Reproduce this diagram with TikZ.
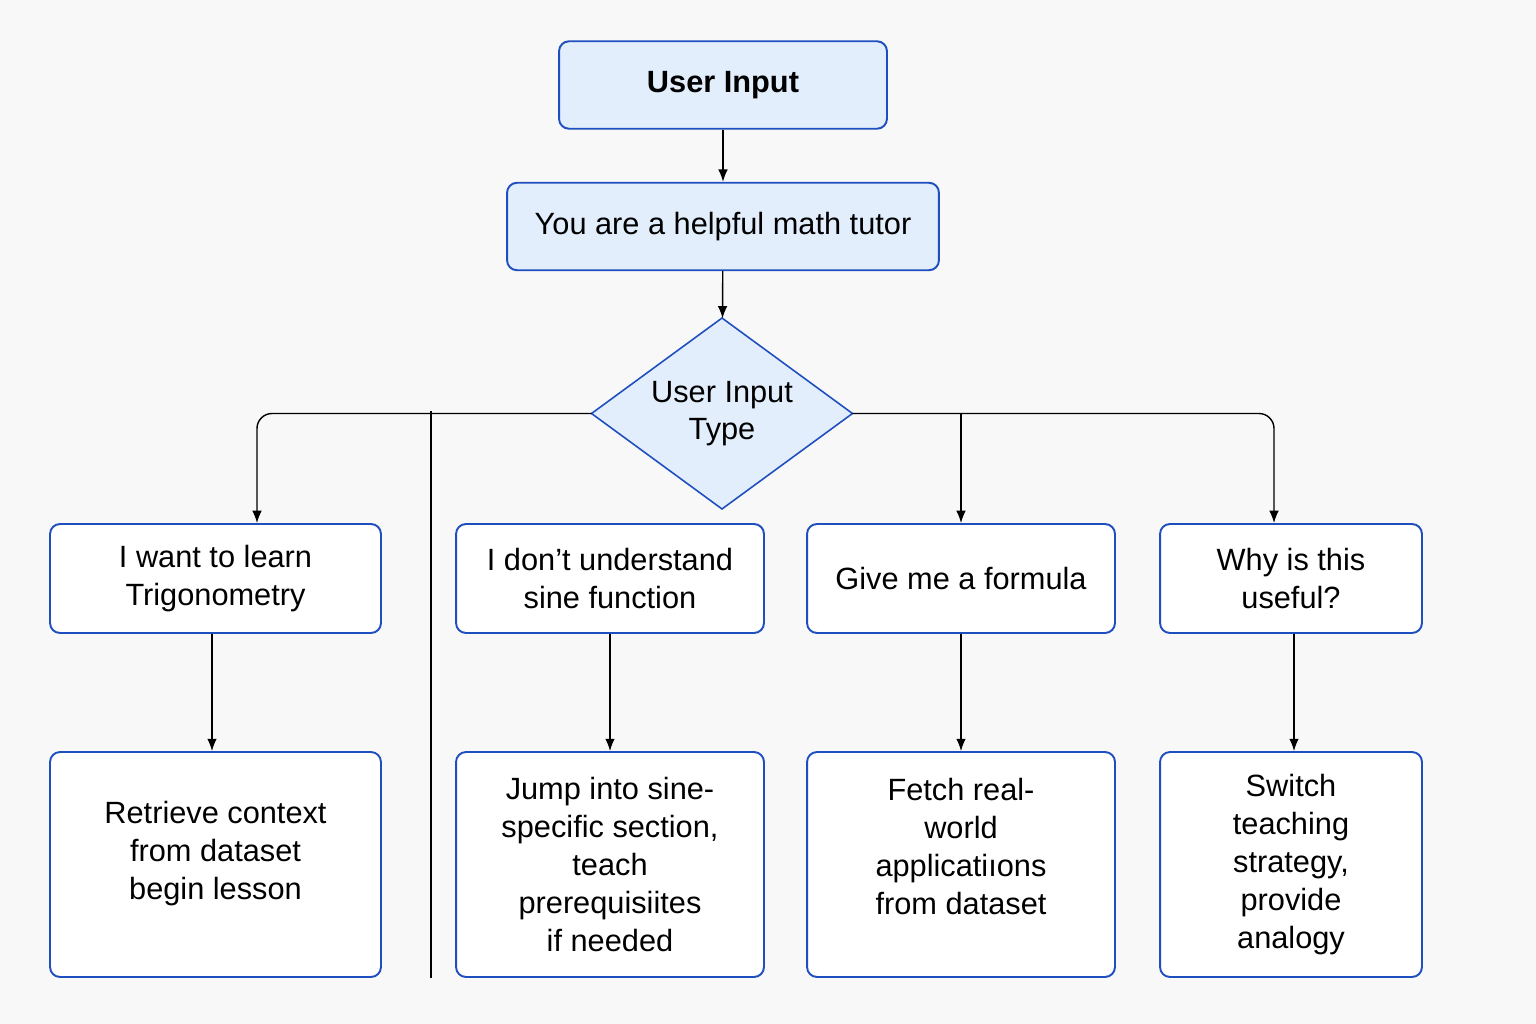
\documentclass[tikz,border=0pt]{standalone}
\usepackage{fontspec}
\setmainfont{Liberation Sans}
\usepackage{tikz}
\usetikzlibrary{positioning,arrows.meta,shapes.geometric}
\definecolor{bgcol}{HTML}{F8F8F9}
\definecolor{boxfill}{HTML}{E3EEFD}
\definecolor{boxline}{HTML}{1F4FBF}

\begin{document}
\begin{tikzpicture}[
  x=0.02cm, y=-0.02cm,
  font=\fontsize{17.5}{21.5}\selectfont,
  box/.style={draw=boxline, line width=1.1pt, rounded corners=0.2cm, align=center, inner sep=0pt},
  topbox/.style={box, fill=boxfill, minimum height=1.75cm},
  choice/.style={box, fill=white, minimum height=2.18cm},
  action/.style={box, fill=white, minimum height=4.5cm},
  decide/.style={diamond, aspect=1.37, draw=boxline, line width=0.9pt, fill=boxfill, align=center,
    minimum width=5.22cm, minimum height=3.82cm, inner sep=0pt, outer sep=0pt},
  arr/.style={-{Latex[length=7pt,width=5.5pt]}, line width=0.8pt},
  line/.style={line width=0.8pt}]
  % page and margins
  \fill[bgcol] (0,0) rectangle (1536,1024);
  \useasboundingbox (0,0) rectangle (1536,1024);
  % top of the flow
  \node[topbox, minimum width=6.56cm] (input) at (723,85) {\textbf{User Input}};
  \node[topbox, minimum width=8.64cm] (tutor) at (723,226.5) {You are a helpful math tutor};
  \node[decide] (type) at (722,413.5) {User Input\\Type};
  % what the user asks
  \node[choice, minimum width=6.62cm] (learn) at (215.5,578.5) {I want to learn\\Trigonometry};
  \node[choice, minimum width=6.16cm] (sine) at (610,578.5) {I don’t understand\\sine function};
  \node[choice, minimum width=6.16cm] (formula) at (961,578.5) {Give me a formula};
  \node[choice, minimum width=5.24cm] (useful) at (1291,578.5) {Why is this\\useful?};
  % what the tutor does
  \node[action, minimum width=6.62cm] (lesson) at (215.5,864.5) {Retrieve context\\from dataset\\begin lesson\\[-5.5pt]};
  \node[action, minimum width=6.16cm] (prereq) at (610,864.5) {Jump into sine-\\specific section,\\teach\\prerequisiites\\if needed};
  \node[action, minimum width=6.16cm] (apps) at (961,864.5) {Fetch real-\\world\\applicatiıons\\from dataset\\[-1pt]};
  \node[action, minimum width=5.24cm] (analogy) at (1291,864.5) {Switch\\teaching\\strategy,\\provide\\analogy};
  \coordinate (split) at (431,411);
  \coordinate (tail) at (431,978);

  \draw[arr] (input) -- (tutor);
  \draw[arr] (tutor) -- (type);
  \draw[arr, rounded corners=0.3cm] (type.west) -| ([xshift=0.83cm]learn.north);
  \draw[line] (split) -- (tail);
  \draw[arr] (formula.north |- type.east) -- (formula.north);
  \draw[arr, rounded corners=0.3cm] (type.east) -| ([xshift=-0.34cm]useful.north);
  \draw[arr] ([xshift=-0.07cm]learn.south) -- ([xshift=-0.07cm]lesson.north);
  \draw[arr] (sine) -- (prereq);
  \draw[arr] (formula) -- (apps);
  \draw[arr] ([xshift=0.06cm]useful.south) -- ([xshift=0.06cm]analogy.north);
\end{tikzpicture}
\end{document}
